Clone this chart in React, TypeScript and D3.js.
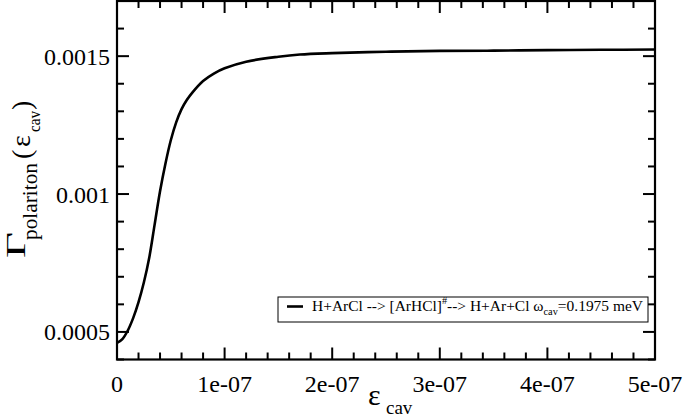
import React from "react";
import * as d3 from "d3";

const epsCav: number[] = [0, 0.5e-8, 1.0e-8, 1.5e-8, 2.0e-8, 2.5e-8, 3.0e-8, 3.5e-8, 4.0e-8, 4.5e-8, 5.0e-8, 5.5e-8, 6.0e-8, 6.5e-8, 7.0e-8, 8.0e-8, 9.0e-8, 1.0e-7, 1.2e-7, 1.5e-7, 1.7e-7, 2.0e-7, 2.5e-7, 3.0e-7, 3.5e-7, 4.0e-7, 4.5e-7, 5.0e-7];
const gammaPolariton: number[] = [0.00046, 0.000474, 0.000505, 0.00055, 0.000608, 0.00068, 0.00077, 0.00089, 0.00101, 0.00111, 0.001195, 0.00126, 0.001308, 0.001342, 0.001368, 0.00141, 0.001437, 0.001456, 0.00148, 0.001498, 0.001506, 0.001511, 0.001516, 0.001519, 0.00152, 0.001522, 0.001523, 0.001524];

const xMajorTicks: number[] = [0, 1e-7, 2e-7, 3e-7, 4e-7, 5e-7];
const xTickLabels: string[] = ["0", "1e-07", "2e-07", "3e-07", "4e-07", "5e-07"];
const xMinorTicks: number[] = [2e-8, 4e-8, 6e-8, 8e-8, 1.2e-7, 1.4e-7, 1.6e-7, 1.8e-7, 2.2e-7, 2.4e-7, 2.6e-7, 2.8e-7, 3.2e-7, 3.4e-7, 3.6e-7, 3.8e-7, 4.2e-7, 4.4e-7, 4.6e-7, 4.8e-7];
const yMajorTicks: number[] = [0.0005, 0.001, 0.0015];
const yTickLabels: string[] = ["0.0005", "0.001", "0.0015"];
const yMinorTicks: number[] = [0.0004, 0.0006, 0.0007, 0.0008, 0.0009, 0.0011, 0.0012, 0.0013, 0.0014, 0.0016, 0.0017];

const W = 685;
const H = 417;
const L = 117;
const R = 655;
const T = 1;
const B = 359.5;
const FONT = "Liberation Serif, Times New Roman, Times, DejaVu Serif, serif";

export default function App() {
  const x = d3.scaleLinear().domain([0, 5e-7]).range([L, R]);
  const y = d3.scaleLinear().domain([0.0004, 0.0017]).range([B, T]);
  const pts: [number, number][] = epsCav.map((e, i) => [e, gammaPolariton[i]]);
  const line = d3
    .line<[number, number]>()
    .x((d) => x(d[0]))
    .y((d) => y(d[1]))
    .curve(d3.curveCatmullRom.alpha(0.5));

  const MAJ = 12;
  const MIN = 7;
  const ts = { fontFamily: FONT };

  return (
    <svg
      width={W}
      height={H}
      style={{ position: "absolute", left: 0, top: 0, background: "#fff", fontFamily: FONT }}
    >
      <rect x={0} y={0} width={W} height={H} fill="#fff" />
      <defs>
        <clipPath id="plotclip">
          <rect x={L} y={T} width={R - L} height={B - T} />
        </clipPath>
      </defs>
      <path d={line(pts) || ""} fill="none" stroke="#000" strokeWidth={2.6} clipPath="url(#plotclip)" />

      <g stroke="#000" strokeWidth={2}>
        {xMajorTicks.map((t, i) => (
          <g key={"xm" + i}>
            <line x1={x(t)} x2={x(t)} y1={B} y2={B - MAJ} />
            <line x1={x(t)} x2={x(t)} y1={T} y2={T + MAJ} />
          </g>
        ))}
        {xMinorTicks.map((t, i) => (
          <g key={"xn" + i}>
            <line x1={x(t)} x2={x(t)} y1={B} y2={B - MIN} />
            <line x1={x(t)} x2={x(t)} y1={T} y2={T + MIN} />
          </g>
        ))}
        {yMajorTicks.map((t, i) => (
          <g key={"ym" + i}>
            <line x1={L} x2={L + MAJ} y1={y(t)} y2={y(t)} />
            <line x1={R} x2={R - MAJ} y1={y(t)} y2={y(t)} />
          </g>
        ))}
        {yMinorTicks.map((t, i) => (
          <g key={"yn" + i}>
            <line x1={L} x2={L + MIN} y1={y(t)} y2={y(t)} />
            <line x1={R} x2={R - MIN} y1={y(t)} y2={y(t)} />
          </g>
        ))}
      </g>
      <rect x={L} y={T} width={R - L} height={B - T} fill="none" stroke="#000" strokeWidth={2.2} />

      {xMajorTicks.map((t, i) => (
        <text key={"xl" + i} x={x(t)} y={392} textAnchor="middle" fontSize={24} fill="#000" style={ts}>
          {xTickLabels[i]}
        </text>
      ))}
      {yMajorTicks.map((t, i) => (
        <text key={"yl" + i} x={110} y={y(t) + 8.5} textAnchor="end" fontSize={24} fill="#000" style={ts}>
          {yTickLabels[i]}
        </text>
      ))}

      <text x={368} y={405} fontSize={30} fill="#000" style={ts}>ε</text>
      <text x={386} y={414} fontSize={19} fill="#000" style={ts}>cav</text>

      <g transform="rotate(-90)">
        <text x={-258} y={25} fontSize={28} textLength={26} lengthAdjust="spacingAndGlyphs" fill="#000" style={ts}>Γ</text>
        <text x={-240} y={37} fontSize={20} textLength={77} lengthAdjust="spacingAndGlyphs" fill="#000" style={ts}>polariton</text>
        <text x={-159} y={31} fontSize={28} fill="#000" style={ts}>(</text>
        <text x={-147} y={30} fontSize={28} fill="#000" style={ts}>ε</text>
        <text x={-132} y={40} fontSize={16} textLength={21} lengthAdjust="spacingAndGlyphs" fill="#000" style={ts}>cav</text>
        <text x={-110} y={31} fontSize={28} fill="#000" style={ts}>)</text>
      </g>

      <rect x={278} y={297} width={370} height={25} fill="#fff" stroke="#000" strokeWidth={1} />
      <line x1={287} x2={303} y1={306.5} y2={306.5} stroke="#000" strokeWidth={2.6} />
      <text x={312} y={311} fontSize={15} fill="#000" textLength={331} lengthAdjust="spacingAndGlyphs" style={ts}>
        <tspan>H+ArCl --&gt; [ArHCl]</tspan>
        <tspan fontSize={10} dy={-7}>#</tspan>
        <tspan dy={7}>--&gt; H+Ar+Cl ω</tspan>
        <tspan fontSize={10} dy={4}>cav</tspan>
        <tspan dy={-4}>=0.1975 meV</tspan>
      </text>
    </svg>
  );
}
